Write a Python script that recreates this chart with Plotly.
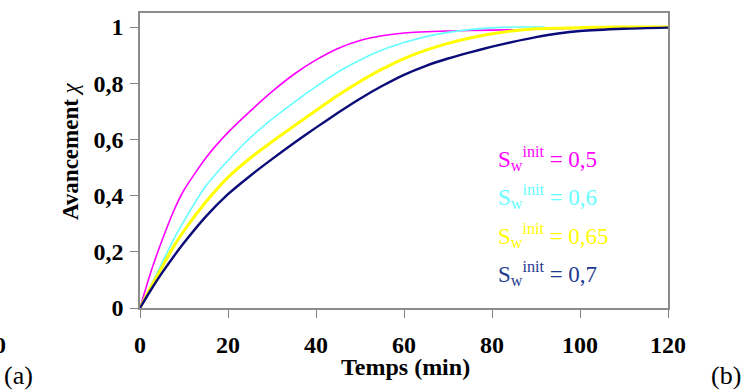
import plotly.graph_objects as go

# ---- data ----
t_magenta = [0, 2.5, 5, 7.5, 10, 15, 20, 25, 30, 35, 40, 45, 50, 55, 60, 70, 80, 90, 100, 110, 120]
chi_magenta = [0, 0.13, 0.24, 0.34, 0.42, 0.535, 0.625, 0.70, 0.77, 0.832, 0.883, 0.924, 0.952, 0.969, 0.979, 0.986, 0.989, 0.992, 0.996, 0.998, 1.0]

t_cyan = [0, 2.5, 5, 7.5, 10, 15, 20, 25, 30, 35, 40, 45, 50, 55, 60, 65, 70, 75, 80, 85, 92]
chi_cyan = [0, 0.08, 0.16, 0.24, 0.31, 0.435, 0.525, 0.605, 0.672, 0.732, 0.788, 0.84, 0.883, 0.918, 0.945, 0.966, 0.981, 0.991, 0.997, 1.0, 1.0]

t_yellow = [0, 2.5, 5, 7.5, 10, 15, 20, 25, 30, 35, 40, 45, 50, 55, 60, 65, 70, 75, 80, 85, 90, 100, 110, 120]
chi_yellow = [0, 0.075, 0.145, 0.215, 0.275, 0.378, 0.465, 0.533, 0.592, 0.648, 0.703, 0.757, 0.806, 0.85, 0.888, 0.918, 0.942, 0.961, 0.976, 0.987, 0.994, 0.998, 1.0, 1.0]

t_navy = [0, 2.5, 5, 7.5, 10, 15, 20, 25, 30, 35, 40, 45, 50, 55, 60, 65, 70, 75, 80, 85, 90, 95, 100, 110, 120]
chi_navy = [0, 0.065, 0.125, 0.18, 0.232, 0.326, 0.405, 0.47, 0.53, 0.587, 0.642, 0.695, 0.745, 0.79, 0.83, 0.862, 0.888, 0.91, 0.93, 0.948, 0.964, 0.977, 0.986, 0.994, 0.998]

series_labels = ["0,5", "0,6", "0,65", "0,7"]
x_ticks = [0, 20, 40, 60, 80, 100, 120]
y_ticks = [0, 0.2, 0.4, 0.6, 0.8, 1.0]
y_ticktext = ["0", "0,2", "0,4", "0,6", "0,8", "1"]

SERIF = "Times New Roman, Liberation Serif, serif"

W, H = 747, 390
# plot area in page pixels
L, R, T, B = 140, 668, 11, 308


def px(xp):  # page pixel -> paper fraction
    return (xp - L) / (R - L)


def py(yp):
    return (B - yp) / (B - T)


fig = go.Figure()
specs = [
    (t_magenta, chi_magenta, "#FF00FF", 1.6),
    (t_cyan, chi_cyan, "#66FFFF", 1.6),
    (t_yellow, chi_yellow, "#FFFF00", 3.0),
    (t_navy, chi_navy, "#0A0A78", 2.4),
]
for (xs, ys, col, w) in specs:
    fig.add_trace(go.Scatter(x=xs, y=ys, mode="lines",
                             line=dict(color=col, width=w, shape="spline", smoothing=0.6),
                             showlegend=False, hoverinfo="skip"))

legend_colors = ["#FF00FF", "#66FFFF", "#FFFF00", "#1F3A8F"]
legend_y = [157, 196, 235, 273]
annotations = []
for lab, col, yy in zip(series_labels, legend_colors, legend_y):
    annotations.append(dict(
        text=f"S<sub>w</sub><sup>init</sup> = {lab}",
        xref="paper", yref="paper", x=px(496), y=py(yy),
        xanchor="left", yanchor="middle", showarrow=False,
        font=dict(family=SERIF, size=23, color=col)))

annotations += [
    dict(text="<b>Avancement</b> <i>χ</i>", xref="paper", yref="paper",
         x=px(70), y=py(150), textangle=-90, showarrow=False,
         xanchor="center", yanchor="middle",
         font=dict(family=SERIF, size=23, color="black")),
    dict(text="<b>Temps (min)</b>", xref="paper", yref="paper",
         x=px(405), y=py(367), showarrow=False, xanchor="center", yanchor="middle",
         font=dict(family=SERIF, size=24, color="black")),
    dict(text="(a)", xref="paper", yref="paper", x=px(2), y=py(376),
         showarrow=False, xanchor="left", yanchor="middle",
         font=dict(family=SERIF, size=26, color="black")),
    dict(text="(b)", xref="paper", yref="paper", x=px(743), y=py(376),
         showarrow=False, xanchor="right", yanchor="middle",
         font=dict(family=SERIF, size=26, color="black")),
    dict(text="<b>0</b>", xref="paper", yref="paper", x=px(0), y=py(345),
         showarrow=False, xanchor="center", yanchor="middle",
         font=dict(family=SERIF, size=24, color="black")),
]

fig.update_layout(
    width=W, height=H,
    margin=dict(l=L, r=W - R, t=T, b=H - B, pad=0),
    paper_bgcolor="white", plot_bgcolor="white",
    annotations=annotations,
    xaxis=dict(range=[0, 120], tickvals=x_ticks, ticks="outside", ticklen=8,
               tickcolor="#808080", tickwidth=1.2, showgrid=False, zeroline=False,
               showline=True, linecolor="#8c8c8c", linewidth=1.5, mirror=True,
               ticklabelstandoff=6,
               tickfont=dict(family=SERIF, size=24, color="black", weight="bold")),
    yaxis=dict(range=[0, 1.05], tickvals=y_ticks, ticktext=y_ticktext, ticks="outside",
               ticklen=8, tickcolor="#808080", tickwidth=1.2, showgrid=False, zeroline=False,
               showline=True, linecolor="#8c8c8c", linewidth=1.5, mirror=True,
               ticklabelstandoff=2,
               tickfont=dict(family=SERIF, size=24, color="black", weight="bold")),
)

fig.write_html("out.html", config={"displayModeBar": False},
               post_script="document.body.style.margin='0';document.body.style.overflow='hidden';")
